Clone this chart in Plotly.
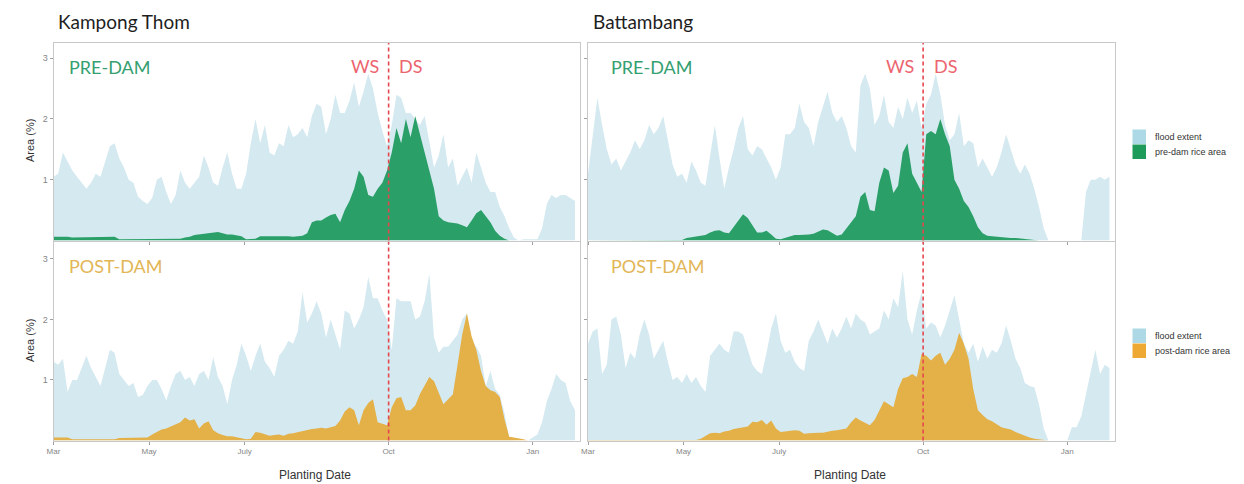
import pandas as pd
import plotly.graph_objects as go

W, H = 1244, 484

# daily planting-date series sampled every 3 days from 1 March
start_date = "2001-03-01"
step_days = 3

kt_pre_flood = [
    1.05, 1.10, 1.45, 1.30, 1.15, 1.05, 0.95, 0.85, 0.95, 1.10,
    1.05, 1.30, 1.55, 1.60, 1.35, 1.20, 1.00, 0.95, 0.72, 0.65,
    0.60, 0.70, 1.00, 1.05, 0.80, 0.60, 0.75, 1.15, 0.95, 0.85,
    0.95, 1.05, 1.40, 1.20, 0.95, 0.90, 1.20, 1.45, 1.10, 0.85,
    0.85, 1.10, 1.60, 2.00, 1.60, 1.90, 1.45, 1.40, 1.60, 1.55,
    1.90, 1.70, 1.75, 1.85, 1.70, 2.05, 2.25, 2.20, 1.75, 2.00,
    2.40, 2.10, 2.10, 2.30, 2.60, 2.20, 2.45, 2.75, 2.50, 2.10,
    1.80, 1.55, 1.90, 2.40, 2.35, 2.10, 2.10, 2.00, 1.90, 2.05,
    1.65, 1.20, 1.40, 1.75, 1.20, 1.35, 0.90, 1.05, 1.20, 0.95,
    1.45, 1.20, 0.95, 0.80, 0.80, 0.55, 0.40, 0.20, 0.05, 0.00,
    0.02, 0.02, 0.02, 0.02, 0.20, 0.60, 0.75, 0.70, 0.75, 0.75,
    0.70, 0.65,
]
kt_pre_rice = [
    0.06, 0.06, 0.07, 0.06, 0.05, 0.05, 0.05, 0.05, 0.05, 0.05,
    0.05, 0.06, 0.06, 0.06, 0.02, 0.02, 0.02, 0.02, 0.02, 0.02,
    0.02, 0.02, 0.02, 0.02, 0.02, 0.02, 0.02, 0.03, 0.05, 0.06,
    0.09, 0.10, 0.10, 0.11, 0.12, 0.14, 0.12, 0.10, 0.10, 0.08,
    0.07, 0.02, 0.02, 0.03, 0.07, 0.07, 0.07, 0.08, 0.07, 0.07,
    0.07, 0.06, 0.07, 0.08, 0.12, 0.30, 0.33, 0.33, 0.38, 0.42,
    0.44, 0.30, 0.50, 0.65, 0.85, 1.15, 1.05, 0.75, 0.72, 0.85,
    0.95, 1.15, 1.45, 1.85, 1.60, 2.00, 1.70, 2.05, 1.75, 1.45,
    1.15, 0.85, 0.40, 0.33, 0.30, 0.29, 0.28, 0.25, 0.22, 0.33,
    0.45, 0.50, 0.40, 0.30, 0.16, 0.08, 0.03, 0.00, 0.00, 0.00,
    0.00, 0.00, 0.00, 0.00, 0.00, 0.00, 0.00, 0.00, 0.00, 0.00,
    0.00, 0.00,
]
kt_post_flood = [
    1.30, 1.25, 1.35, 0.80, 1.00, 1.00, 1.20, 1.40, 1.20, 1.05,
    0.90, 1.20, 1.50, 1.45, 1.10, 1.00, 0.90, 0.95, 0.72, 0.75,
    0.90, 1.00, 1.00, 0.85, 0.66, 0.90, 1.10, 1.15, 1.00, 1.05,
    0.90, 1.10, 1.15, 1.00, 1.38, 1.05, 0.90, 0.60, 1.00, 1.25,
    1.60, 1.40, 1.15, 1.40, 1.60, 1.30, 1.20, 1.05, 1.40, 1.50,
    1.65, 1.60, 1.80, 2.45, 1.95, 2.10, 2.30, 2.10, 1.70, 2.00,
    1.75, 1.50, 2.15, 2.10, 1.85, 2.00, 2.20, 2.70, 2.35, 2.35,
    2.15, 2.00, 1.50, 2.35, 2.30, 2.30, 2.30, 2.00, 2.05, 2.30,
    2.75, 1.70, 1.45, 1.55, 1.55, 1.65, 1.75, 2.00, 2.10, 1.65,
    1.55, 1.40, 0.90, 1.15, 0.85, 0.75, 0.45, 0.05, 0.00, 0.00,
    0.00, 0.00, 0.05, 0.10, 0.30, 0.65, 0.85, 1.10, 1.00, 0.95,
    0.65, 0.50,
]
kt_post_rice = [
    0.05, 0.05, 0.05, 0.05, 0.02, 0.02, 0.02, 0.02, 0.02, 0.02,
    0.02, 0.02, 0.02, 0.02, 0.04, 0.04, 0.04, 0.04, 0.04, 0.04,
    0.05, 0.10, 0.14, 0.18, 0.20, 0.23, 0.26, 0.30, 0.38, 0.33,
    0.35, 0.20, 0.28, 0.32, 0.17, 0.12, 0.09, 0.07, 0.07, 0.05,
    0.03, 0.02, 0.03, 0.14, 0.13, 0.10, 0.08, 0.09, 0.10, 0.08,
    0.11, 0.12, 0.14, 0.16, 0.18, 0.19, 0.20, 0.21, 0.20, 0.22,
    0.24, 0.33, 0.48, 0.55, 0.50, 0.25, 0.50, 0.62, 0.68, 0.30,
    0.28, 0.25, 0.55, 0.70, 0.72, 0.50, 0.50, 0.58, 0.77, 0.90,
    1.05, 0.98, 0.80, 0.60, 0.68, 0.76, 1.25, 1.75, 2.10, 1.72,
    1.50, 1.15, 0.90, 0.83, 0.80, 0.72, 0.35, 0.06, 0.05, 0.04,
    0.02, 0.00, 0.00, 0.00, 0.00, 0.00, 0.00, 0.00, 0.00, 0.00,
    0.00, 0.00,
]
bb_pre_flood = [
    1.10, 1.70, 2.35, 1.90, 1.50, 1.25, 1.35, 1.15, 1.30, 1.45,
    1.65, 1.50, 1.65, 1.90, 1.75, 1.85, 2.05, 1.65, 1.25, 1.05,
    1.10, 0.95, 1.30, 1.15, 0.95, 0.90, 1.40, 1.90, 1.35, 0.85,
    1.20, 1.50, 1.85, 2.05, 1.50, 1.40, 1.55, 1.50, 1.35, 1.20,
    1.00, 1.20, 1.75, 1.75, 1.85, 2.25, 1.95, 1.85, 1.55, 1.95,
    2.20, 2.45, 2.10, 1.95, 2.05, 1.85, 1.55, 1.45, 2.55, 2.75,
    2.50, 1.90, 2.05, 2.40, 1.95, 1.85, 2.20, 2.00, 2.35, 2.10,
    2.30, 1.85, 2.25, 2.40, 2.75, 2.40, 1.90, 1.65, 1.75, 2.10,
    1.55, 1.65, 1.60, 1.20, 1.35, 1.20, 1.05, 1.20, 1.45, 1.75,
    1.50, 1.25, 1.10, 1.25, 1.10, 0.85, 0.55, 0.20, 0.00, 0.00,
    0.00, 0.00, 0.00, 0.00, 0.00, 0.00, 0.80, 1.00, 1.00, 1.05,
    1.00, 1.05,
]
bb_pre_rice = [
    0.00, 0.00, 0.00, 0.00, 0.00, 0.00, 0.00, 0.00, 0.00, 0.00,
    0.00, 0.00, 0.00, 0.01, 0.01, 0.01, 0.01, 0.01, 0.01, 0.01,
    0.01, 0.04, 0.05, 0.06, 0.07, 0.09, 0.13, 0.16, 0.17, 0.13,
    0.12, 0.22, 0.33, 0.43, 0.37, 0.25, 0.13, 0.13, 0.16, 0.10,
    0.03, 0.02, 0.04, 0.07, 0.09, 0.09, 0.09, 0.10, 0.11, 0.15,
    0.18, 0.17, 0.12, 0.08, 0.10, 0.20, 0.30, 0.40, 0.72, 0.80,
    0.50, 0.48, 0.95, 1.20, 1.15, 0.78, 0.90, 1.45, 1.60, 1.10,
    0.95, 0.80, 1.75, 1.80, 1.75, 2.00, 1.75, 1.55, 1.00, 0.85,
    0.65, 0.55, 0.40, 0.22, 0.12, 0.08, 0.07, 0.06, 0.05, 0.04,
    0.04, 0.04, 0.03, 0.03, 0.02, 0.01, 0.00, 0.00, 0.00, 0.00,
    0.00, 0.00, 0.00, 0.00, 0.00, 0.00, 0.00, 0.00, 0.00, 0.00,
    0.00, 0.00,
]
bb_post_flood = [
    1.60, 1.80, 1.85, 1.10, 1.25, 2.00, 2.05, 1.75, 1.20, 1.45,
    1.35, 1.75, 2.00, 1.75, 1.35, 1.50, 1.65, 1.30, 1.00, 1.05,
    0.95, 1.10, 0.95, 1.05, 0.90, 0.80, 1.40, 1.50, 1.60, 1.50,
    1.45, 1.80, 1.80, 1.75, 1.50, 1.25, 1.15, 1.10, 1.45, 1.85,
    2.10, 1.65, 1.45, 1.50, 1.30, 1.20, 1.15, 1.65, 1.80, 2.00,
    1.80, 1.60, 1.85, 1.70, 1.85, 2.05, 1.85, 2.10, 2.00, 1.95,
    1.75, 1.80, 1.85, 2.15, 2.00, 2.35, 2.20, 2.80, 2.00, 1.75,
    2.15, 2.45, 1.85, 1.95, 1.90, 1.70, 1.90, 2.15, 2.40, 2.00,
    1.60, 1.45, 1.60, 1.30, 1.55, 1.35, 1.50, 1.45, 1.60, 1.90,
    1.65, 1.35, 1.20, 0.95, 0.90, 0.88, 0.60, 0.20, 0.00, 0.00,
    0.00, 0.00, 0.00, 0.22, 0.22, 0.40, 0.75, 1.15, 1.50, 1.10,
    1.25, 1.20,
]
bb_post_rice = [
    0.01, 0.01, 0.01, 0.01, 0.01, 0.01, 0.01, 0.01, 0.01, 0.01,
    0.01, 0.01, 0.01, 0.01, 0.01, 0.01, 0.01, 0.01, 0.01, 0.01,
    0.01, 0.01, 0.01, 0.01, 0.03, 0.08, 0.12, 0.13, 0.12, 0.15,
    0.16, 0.19, 0.20, 0.22, 0.23, 0.31, 0.30, 0.34, 0.26, 0.33,
    0.20, 0.14, 0.15, 0.17, 0.17, 0.16, 0.11, 0.12, 0.13, 0.13,
    0.13, 0.15, 0.16, 0.17, 0.18, 0.20, 0.30, 0.38, 0.33, 0.29,
    0.25, 0.34, 0.50, 0.65, 0.60, 0.55, 0.85, 1.03, 1.05, 1.10,
    1.05, 1.43, 1.40, 1.32, 1.40, 1.45, 1.25, 1.35, 1.50, 1.78,
    1.60, 1.35, 0.85, 0.50, 0.42, 0.35, 0.32, 0.27, 0.22, 0.20,
    0.18, 0.14, 0.11, 0.07, 0.05, 0.03, 0.02, 0.00, 0.00, 0.00,
    0.00, 0.00, 0.00, 0.00, 0.00, 0.00, 0.00, 0.00, 0.00, 0.00,
    0.00, 0.00,
]

month_ticks = ["2001-03-01", "2001-05-01", "2001-07-01", "2001-10-01", "2002-01-01"]
month_labels = ["Mar", "May", "July", "Oct", "Jan"]
y_ticks = [1, 2, 3]
season_split = "2001-10-01"
x_range = ["2001-03-01", "2002-01-31 05:00"]

dates = pd.date_range(start_date, periods=len(kt_pre_flood), freq=f"{step_days}D")

FLOOD = "rgb(212,233,240)"
GREEN = "rgb(42,160,104)"
ORANGE = "rgb(228,176,72)"
RED = "rgb(230,72,80)"
BORDER = "#c8c8c8"
AXIS_FONT = "Liberation Sans"
TITLE_FONT = "Lato"


def px_x(v):
    return v / W


def px_y(v):
    return 1 - v / H


# panel pixel boxes: (left, right, top, bottom)
col_x = [(53.5, 580.0), (588.0, 1114.5)]
row_y = [(43.0, 240.5), (242.0, 440.5)]
row_ymax = [3.25, 3.28]

panels = [
    # (axis index, column, row, flood, rice, rice colour)
    (1, 0, 0, kt_pre_flood, kt_pre_rice, GREEN),
    (2, 1, 0, bb_pre_flood, bb_pre_rice, GREEN),
    (3, 0, 1, kt_post_flood, kt_post_rice, ORANGE),
    (4, 1, 1, bb_post_flood, bb_post_rice, ORANGE),
]

fig = go.Figure()
layout_axes = {}
shapes = []

for idx, col, row, flood, rice, rice_col in panels:
    sfx = "" if idx == 1 else str(idx)
    xa, ya = "x" + sfx, "y" + sfx
    fig.add_trace(go.Scatter(
        x=dates, y=flood, mode="lines", fill="tozeroy",
        line=dict(width=0, color=FLOOD), fillcolor=FLOOD,
        xaxis=xa, yaxis=ya, showlegend=False, hoverinfo="skip"))
    fig.add_trace(go.Scatter(
        x=dates, y=rice, mode="lines", fill="tozeroy",
        line=dict(width=0, color=rice_col), fillcolor=rice_col,
        xaxis=xa, yaxis=ya, showlegend=False, hoverinfo="skip"))

    x0, x1 = col_x[col]
    y0, y1 = row_y[row]
    layout_axes["xaxis" + sfx] = dict(
        domain=[px_x(x0), px_x(x1)], anchor=ya, type="date", range=x_range,
        tickmode="array", tickvals=month_ticks, ticktext=month_labels,
        showticklabels=(row == 1), ticks="outside", ticklen=3, tickwidth=1,
        tickcolor="#a0a0a0",
        tickfont=dict(family=AXIS_FONT, size=8, color="#858585"),
        showgrid=False, zeroline=False, showline=True, linecolor=BORDER,
        linewidth=1, mirror=True, fixedrange=True, automargin=False)
    layout_axes["yaxis" + sfx] = dict(
        domain=[px_y(y1), px_y(y0)], anchor=xa, range=[0, row_ymax[row]],
        tickmode="array", tickvals=y_ticks, showticklabels=(col == 0),
        ticks="outside", ticklen=3, tickwidth=1, tickcolor="#a0a0a0",
        tickfont=dict(family=AXIS_FONT, size=9, color="#858585"),
        showgrid=False, zeroline=False, showline=True, linecolor=BORDER,
        linewidth=1, mirror=True, fixedrange=True, automargin=False)

    # wet / dry season boundary
    shapes.append(dict(
        type="line", xref=xa, yref=ya + " domain",
        x0=season_split, x1=season_split, y0=0, y1=1,
        line=dict(color=RED, width=1.6, dash="4px,3px")))

annotations = []


def add_text(text, x, y, size, color, family=TITLE_FONT, xanchor="left",
             angle=0):
    annotations.append(dict(
        text=text, x=px_x(x), y=px_y(y), xref="paper", yref="paper",
        xanchor=xanchor, yanchor="middle", showarrow=False,
        textangle=angle, font=dict(family=family, size=size, color=color)))


# province titles
add_text("Kampong Thom", 56, 22, 19, "#1e1e1e")
add_text("Battambang", 591, 22, 19, "#1e1e1e")

# period labels and season labels
PRE_GREEN = "rgb(52,160,112)"
POST_GOLD = "rgb(226,182,86)"
SEASON_RED = "rgb(236,100,110)"
for off in (0.0, 542.0):
    add_text("PRE-DAM", 67 + off, 67, 18, PRE_GREEN)
    add_text("POST-DAM", 67 + off, 266, 18, POST_GOLD)
for off in (0.0, 534.5):
    add_text("WS", 349 + off, 66, 18, SEASON_RED)
    add_text("DS", 397 + off, 66, 18, SEASON_RED)

# axis titles
for yc in (140, 340):
    add_text("Area (%)", 30, yc, 11, "#333333", family=AXIS_FONT,
             xanchor="center", angle=-90)
for xc in (315, 850):
    add_text("Planting Date", xc, 475, 12, "#333333", family=AXIS_FONT,
             xanchor="center")

# legends
legend_rows = [
    (129.5, [("flood extent", "rgb(173,216,230)"),
             ("pre-dam rice area", "rgb(30,154,90)")]),
    (328.5, [("flood extent", "rgb(173,216,230)"),
             ("post-dam rice area", "rgb(238,168,52)")]),
]
for top, items in legend_rows:
    for i, (label, colr) in enumerate(items):
        yt = top + i * 15
        shapes.append(dict(
            type="rect", xref="paper", yref="paper",
            x0=px_x(1132.5), x1=px_x(1146), y0=px_y(yt + 14.5), y1=px_y(yt),
            line=dict(width=0), fillcolor=colr))
        add_text(label, 1153, yt + 7.5, 9, "#333333", family=AXIS_FONT)

fig.update_layout(
    width=W, height=H, margin=dict(l=0, r=0, t=0, b=0),
    paper_bgcolor="white", plot_bgcolor="white",
    shapes=shapes, annotations=annotations, showlegend=False,
    **layout_axes)

fig.write_html("out.html", config={"displayModeBar": False})
